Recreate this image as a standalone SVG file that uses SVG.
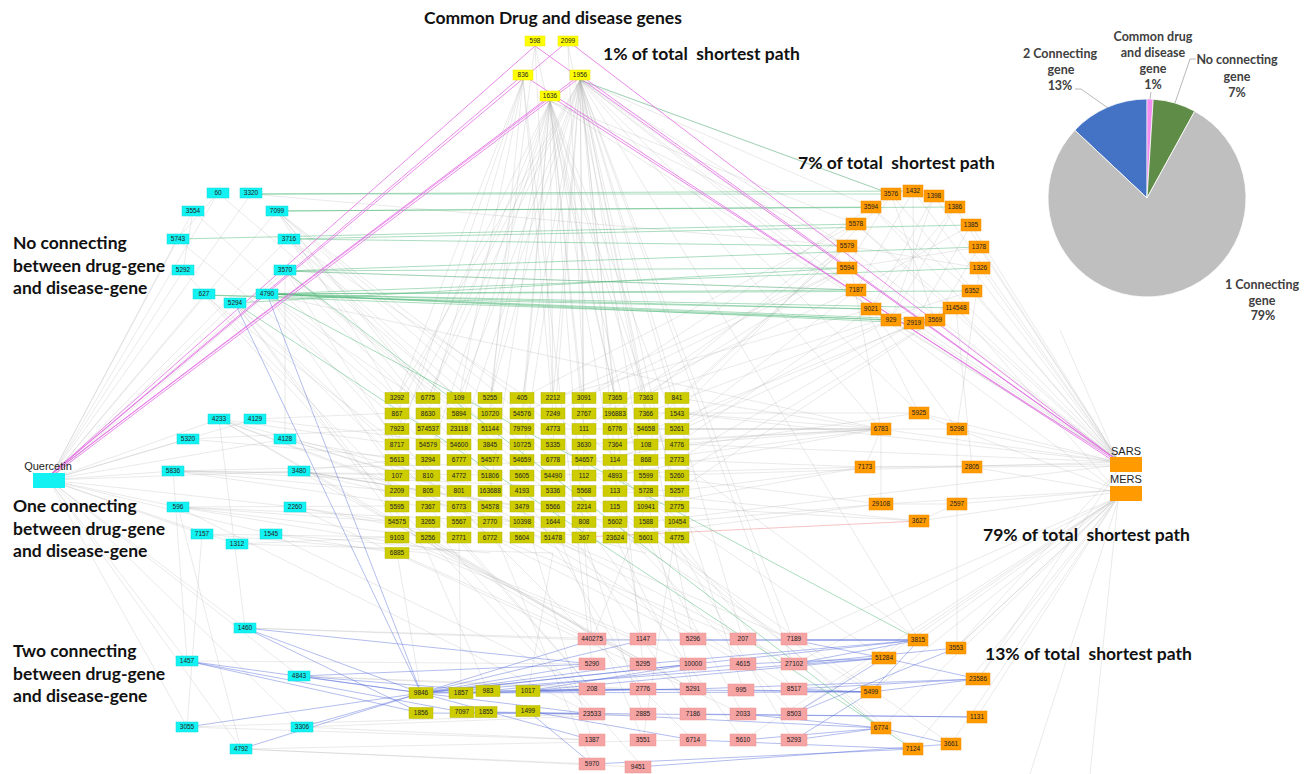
<svg xmlns="http://www.w3.org/2000/svg" width="1309" height="774" viewBox="0 0 1309 774">
<style>
.t{font-family:Lato,"Open Sans","Liberation Sans",sans-serif;font-weight:700;font-size:17.5px;fill:#111;white-space:pre}
.pl{font-family:Lato,"Liberation Sans",sans-serif;font-weight:700;font-size:12.5px;fill:#404040;text-anchor:middle}
.lb{font-family:"Liberation Sans",Arial,sans-serif;font-size:11px;fill:#222;text-anchor:middle}
.n text{font-family:"Liberation Sans",Arial,sans-serif;font-size:6.5px;fill:#222;text-anchor:middle}
.cy rect{fill:#13f2f2;stroke:#0cd8d8;stroke-width:.5}
.cm rect{fill:#ffff00;stroke:#e6e600;stroke-width:.5}
.gy rect{fill:#cccc00;stroke:#b8b800;stroke-width:.5}
.or rect{fill:#ff9a00;stroke:#f08c00;stroke-width:.5}
.pk rect{fill:#f6a3a3;stroke:#ec9595;stroke-width:.5}
.eg{fill:none;stroke:#b0b0b0;stroke-width:.6;opacity:.45}
.egr{fill:none;stroke:#4fb877;stroke-width:.8;opacity:.6}
.ebl{fill:none;stroke:#5068d8;stroke-width:.8;opacity:.55}
.emg{fill:none;stroke:#e46ee4;stroke-width:1;opacity:.8}
.epk{fill:none;stroke:#f0a0a0;stroke-width:.8;opacity:.8}
.ld{fill:none;stroke:#a6a6a6;stroke-width:.8}
</style>
<rect width="1309" height="774" fill="#fff"/>

<g id="connectors">
<path id="e-q" class="eg" d="M49,480L218,193M49,480L251,194M49,480L193,211M49,480L277,211M49,480L177,239M49,480L288,239M49,480L183,271M49,480L285,271M49,480L204,295M49,480L267,294M49,480L235,303M49,480L219,419M49,480L255,419M49,480L188,439M49,480L285,439M49,480L173,471M49,480L299,471M49,480L178,507M49,480L295,507M49,480L202,534M49,480L271,534M49,480L237,544M49,480L245,628M49,480L187,661M49,480L299,676M49,480L187,727M49,480L302,727M49,480L241,749"/>
<path id="e-ctop" class="eg" d="M277,211L397,398M277,211L459,429M277,211L553,460M277,211L615,491M277,211L677,522M288,239L428,413M288,239L522,444M288,239L646,476M285,271L397,444M285,271L490,476M285,271L584,507M285,271L856,290M267,294L397,475M267,294L459,506M267,294L553,537M267,294L881,429M235,303L397,522M235,303L428,553M235,303L490,537M193,211L397,398M218,193L459,398M251,194L847,246M177,239L428,444M183,271L397,491M204,295L459,491M193,211L183,271M218,193L177,239M285,271L285,439M277,211L428,398M288,239L490,429M285,271L553,491M267,294L615,537M235,303L459,522M204,295L397,506"/>
<path id="e-common" class="eg" d="M580,80L397,398M580,80L459,398M580,80L522,398M580,80L584,398M580,80L646,398M580,80L677,398M580,80L847,246M580,80L856,290M580,80L871,309M580,80L553,444M580,80L615,460M580,80L743,640M580,80L793,664M580,80L919,640M550,101L428,398M550,101L490,398M550,101L553,398M550,101L615,398M550,101L522,429M550,101L584,429M550,101L891,320M550,101L643,640M523,80L397,398M523,80L428,413M523,80L490,413M535,46L553,398M550,101L693,689M523,80L592,664"/>
<path id="e-common2" class="eg" d="M580,80L428,398M580,80L490,398M580,80L553,398M580,80L615,398M580,80L397,429M580,80L459,444M580,80L522,460M580,80L584,475M580,80L646,491M580,80L677,506M580,80L793,640M580,80L693,640M580,80L643,664M580,80L881,429M580,80L847,268M580,80L919,413M550,101L397,413M550,101L459,413M550,101L522,413M550,101L584,413M550,101L646,413M550,101L677,429M550,101L428,460M550,101L490,491M550,101L592,640M550,101L743,689M550,101L847,246M550,101L856,224M523,80L459,398M523,80L553,413M523,80L397,444M568,46L584,398M568,46L646,413M535,46L490,398M535,46L615,398M580,80L891,194M580,80L871,207"/>
<path id="e-grid-otop" class="eg" d="M677,398L847,246M646,398L856,224M615,413L847,268M677,429L856,290M584,398L871,207M553,413L847,268M677,444L871,309M646,444L891,320M615,460L914,323M522,398L856,224M677,475L935,320M646,429L847,246M677,413L891,194M615,398L856,290M584,429L847,246M553,398L871,309M646,413L891,320M677,460L914,323M615,444L956,308M584,413L972,291M677,491L935,320M522,413L847,268"/>
<path id="e-otop-in" class="eg" d="M891,194L847,268M913,191L856,290M934,196L871,309M955,207L891,320M971,225L914,323M979,247L935,320M871,207L972,291M856,224L956,308M847,246L980,268M847,268L979,247M856,290L971,225M871,309L955,207M891,320L934,196M914,323L913,191M935,320L891,194M847,246L881,429M856,290L919,413M871,309L957,429M956,308L972,467M980,268L957,429"/>
<path id="e-otop-s" class="eg" d="M891,194L1118,460M913,191L1118,460M934,196L1118,460M871,207L1118,460M955,207L1118,460M856,224L1118,460M971,225L1118,460M847,246L1118,460M979,247L1118,460M847,268L1118,460M980,268L1118,460M856,290L1118,460M972,291L1118,460M871,309L1118,460M956,308L1118,460M891,320L1118,460M914,323L1118,460M935,320L1118,460M871,309L1118,492M956,308L1118,492"/>
<path id="e-grid-omid" class="eg" d="M677,398L881,429M677,413L881,429M677,429L881,429M677,444L881,429M646,429L881,429M615,444L881,429M677,460L865,467M677,491L865,467M646,475L881,504M677,522L881,504M584,460L919,413M646,413L919,413M677,507L919,521M615,537L881,504M553,475L865,467M881,429L957,429M865,467L972,467M881,504L957,504M919,521L957,504M919,413L957,429M957,429L957,648M881,429L865,467M881,429L881,504M646,460L881,429M615,475L881,429M584,444L881,429M646,506L865,467M553,429L881,429M615,491L919,521"/>
<path id="e-omid-sm" class="eg" d="M919,413L1118,462M881,429L1118,462M957,429L1118,462M865,467L1118,464M972,467L1118,466M881,504L1118,490M957,504L1118,490M919,521L1118,492M957,429L1118,490M972,467L1118,492"/>
<path id="e-sm" class="eg" d="M1118,462L677,413M1118,462L677,475M1118,465L646,522M1118,497L794,664M1118,497L794,714M1118,497L743,740M1118,497L794,639M1118,500L1030,774M1118,500L1090,774M1118,462L1060,330M1118,497L956,648M1118,462L677,444"/>
<path id="e-cmid" class="eg" d="M219,419L397,444M219,419L428,475M219,419L490,522M219,419L584,553M219,419L592,640M255,419L397,413M255,419L459,444M188,439L397,429M188,439L428,460M285,439L397,460M285,439L459,491M285,439L553,522M173,471L397,475M173,471L397,491M173,471L428,507M173,471L490,475M173,471L646,460M173,471L677,491M299,471L397,460M299,471L428,491M299,471L522,506M299,471L615,522M299,471L646,553M178,507L397,506M178,507L397,522M178,507L428,537M178,507L459,553M178,507L522,522M295,507L397,522M295,507L459,537M202,534L397,537M202,534L428,553M271,534L397,553M271,534L490,553M237,544L397,537M237,544L553,553M219,419L643,664M299,471L693,689M178,507L592,714M295,507L743,714M271,534L592,689"/>
<path id="e-grid-bottom" class="eg" d="M397,553L592,640M428,537L643,664M459,537L592,689M490,537L693,640M522,537L743,664M553,537L793,640M584,537L643,714M615,537L693,689M646,537L743,714M677,537L793,689M522,506L592,740M553,522L643,740M459,506L693,740M397,506L592,714M646,491L793,740M677,460L919,640M615,475L884,658M553,491L871,692M490,522L592,764M428,522L643,767M397,553L421,693M459,537L461,693M428,553L488,691M553,553L528,691M584,491L951,744M615,506L913,749M646,522L881,728M397,537L643,640M428,553L693,664M459,522L743,640M490,506L794,664M522,491L643,689M553,506L693,714M584,522L743,740M615,522L794,714M646,506L592,640M677,522L643,740M397,522L693,689M428,506L592,689M459,491L794,689"/>
<path id="e-cbot" class="eg" d="M245,628L592,640M245,628L643,640M187,661L592,664M299,676L592,689M299,676L643,689M187,727L592,714M187,727L592,740M302,727L592,740M302,727L643,714M241,749L592,764M241,749L638,767M241,749L693,740M245,628L219,419M241,749L178,507M187,661L173,471M187,727L202,534"/>
<path id="e-obot-sm" class="eg" d="M919,640L1118,497M956,648L1118,497M884,658L1118,497M978,679L1118,497M871,692L1118,497M977,717L1118,497M881,728L1118,497M951,744L1118,497M913,749L1118,497M956,648L1118,470M978,679L1118,470"/>
<path id="e-blue" class="ebl" d="M235,303L421,693M267,294L421,693M245,628L421,693M245,628L421,713M245,628L592,664M187,661L421,693M187,661L421,713M187,661L462,712M299,676L421,693M299,676L488,691M299,676L592,664M187,727L421,693M302,727L421,693M241,749L421,693M421,693L592,640M421,693L592,664M421,693L592,689M421,693L592,714M421,693L643,640M421,693L643,664M421,693L693,664M421,693L919,640M421,693L884,658M421,693L871,692M421,693L592,740M461,693L643,689M461,693L693,689M488,691L693,689M488,691L743,664M528,691L592,689M528,691L693,664M528,691L884,658M462,712L592,714M486,712L643,714M528,711L693,740M528,711L592,764M421,713L592,714M592,640L919,640M793,640L919,640M793,640L884,658M793,664L956,648M793,664L919,640M743,664L884,658M693,640L919,640M793,689L871,692M793,689L978,679M741,690L871,692M794,714L884,658M794,714L956,648M743,714L881,728M794,740L881,728M794,740L871,692M743,740L881,728M693,740L913,749M592,764L913,749M638,767L951,744M693,689L978,679M693,714L977,717M643,714L977,717M643,664L919,640M592,689L871,692M592,714L881,728M884,658L978,679M871,692L978,679M919,640L871,692M881,728L951,744"/>
<path id="e-green" class="egr" d="M251,194L891,194M251,194L913,191M277,211L871,207M277,211L955,207M177,239L856,224M288,239L847,246M288,239L971,225M285,271L847,268M285,271L979,247M285,271L856,290M267,294L856,290M267,294L871,309M267,294L891,320M267,294L972,291M267,294L956,308M267,294L914,323M267,294L935,320M267,294L980,268M204,295L871,309M204,295L891,320M235,303L847,268M580,80L891,194M267,294L919,640M285,271L881,728M235,303L913,749"/>
<path id="e-magenta" class="emg" d="M49,476L535,46M49,476L568,41M49,476L523,75M49,476L580,75M49,476L550,96M52,476L578,79M535,46L1114,458M568,41L1114,458M580,75L1114,458M550,96L1112,458M523,75L1112,460"/>
<path id="e-pink" class="epk" d="M584,537L919,521"/>
</g>

<g id="pie">
<path d="M1147,198L1074.8,130.2A99,99 0 0 1 1147,99Z" fill="#4472c4" stroke="#fff" stroke-width=".8"/>
<path d="M1147,198L1147,99A99,99 0 0 1 1153.2,99.2Z" fill="#f28ef0" stroke="#fff" stroke-width=".5"/>
<path d="M1147,198L1153.2,99.2A99,99 0 0 1 1194.7,111.2Z" fill="#5f8d48" stroke="#fff" stroke-width=".8"/>
<path d="M1147,198L1194.7,111.2A99,99 0 1 1 1074.8,130.2Z" fill="#bfbfbf" stroke="#fff" stroke-width=".8"/>
<polyline class="ld" points="1075,89 1081,89 1108,108"/>
<polyline class="ld" points="1151,92 1150,99"/>
<polyline class="ld" points="1196,59 1190,59 1175,103"/>
<text class="pl" x="1060" y="58">2 Connecting</text>
<text class="pl" x="1061" y="74">gene</text>
<text class="pl" x="1060" y="90">13%</text>
<text class="pl" x="1153" y="41">Common drug</text>
<text class="pl" x="1153" y="57">and disease</text>
<text class="pl" x="1153" y="73">gene</text>
<text class="pl" x="1153" y="89">1%</text>
<text class="pl" x="1237" y="64">No connecting</text>
<text class="pl" x="1237" y="81">gene</text>
<text class="pl" x="1237" y="97">7%</text>
<text class="pl" x="1262" y="289">1 Connecting</text>
<text class="pl" x="1262" y="305">gene</text>
<text class="pl" x="1263" y="320">79%</text>
</g>

<g id="titles">
<text class="t" x="424" y="24">Common Drug and disease genes</text>
<text class="t" x="603" y="60">1% of total  shortest path</text>
<text class="t" x="798" y="169">7% of total  shortest path</text>
<text class="t" x="983" y="541">79% of total  shortest path</text>
<text class="t" x="985" y="660">13% of total  shortest path</text>
<text class="t" x="13" y="249">No connecting</text>
<text class="t" x="13" y="272">between drug-gene</text>
<text class="t" x="13" y="294">and disease-gene</text>
<text class="t" x="13" y="512">One connecting</text>
<text class="t" x="13" y="535">between drug-gene</text>
<text class="t" x="13" y="557">and disease-gene</text>
<text class="t" x="13" y="657">Two connecting</text>
<text class="t" x="13" y="680">between drug-gene</text>
<text class="t" x="13" y="702">and disease-gene</text>
</g>

<g id="quercetin"><rect x="33" y="473" width="32" height="15" fill="#13f2f2"/><text class="lb" x="48" y="470">Quercetin</text></g>
<g id="sars"><rect x="1110" y="457" width="32" height="15" fill="#ff9a00"/><text class="lb" x="1126" y="455">SARS</text></g>
<g id="mers"><rect x="1110" y="486" width="32" height="15" fill="#ff9a00"/><text class="lb" x="1126" y="483">MERS</text></g>

<g id="y598" class="n cm" transform="translate(535,41)"><rect x="-10" y="-5" width="20" height="10"/><text y="2.3">598</text></g>
<g id="y2099" class="n cm" transform="translate(568,41)"><rect x="-10" y="-5" width="20" height="10"/><text y="2.3">2099</text></g>
<g id="y836" class="n cm" transform="translate(523,75)"><rect x="-10" y="-5" width="20" height="10"/><text y="2.3">836</text></g>
<g id="y1956" class="n cm" transform="translate(580,75)"><rect x="-10" y="-5" width="20" height="10"/><text y="2.3">1956</text></g>
<g id="y1636" class="n cm" transform="translate(550,96)"><rect x="-10" y="-5" width="20" height="10"/><text y="2.3">1636</text></g>

<g id="c60" class="n cy" transform="translate(218,193)"><rect x="-11" y="-5" width="22" height="10"/><text y="2.3">60</text></g>
<g id="c3320" class="n cy" transform="translate(251,193)"><rect x="-11" y="-5" width="22" height="10"/><text y="2.3">3320</text></g>
<g id="c3554" class="n cy" transform="translate(193,211)"><rect x="-11" y="-5" width="22" height="10"/><text y="2.3">3554</text></g>
<g id="c7099" class="n cy" transform="translate(277,211)"><rect x="-11" y="-5" width="22" height="10"/><text y="2.3">7099</text></g>
<g id="c5743" class="n cy" transform="translate(178,239)"><rect x="-11" y="-5" width="22" height="10"/><text y="2.3">5743</text></g>
<g id="c3716" class="n cy" transform="translate(289,239)"><rect x="-11" y="-5" width="22" height="10"/><text y="2.3">3716</text></g>
<g id="c5292" class="n cy" transform="translate(183,270)"><rect x="-11" y="-5" width="22" height="10"/><text y="2.3">5292</text></g>
<g id="c3570" class="n cy" transform="translate(285,270)"><rect x="-11" y="-5" width="22" height="10"/><text y="2.3">3570</text></g>
<g id="c627" class="n cy" transform="translate(204,294)"><rect x="-11" y="-5" width="22" height="10"/><text y="2.3">627</text></g>
<g id="c4790" class="n cy" transform="translate(267,294)"><rect x="-11" y="-5" width="22" height="10"/><text y="2.3">4790</text></g>
<g id="c5294" class="n cy" transform="translate(235,303)"><rect x="-11" y="-5" width="22" height="10"/><text y="2.3">5294</text></g>

<g id="c4233" class="n cy" transform="translate(219,419)"><rect x="-11" y="-5" width="22" height="10"/><text y="2.3">4233</text></g>
<g id="c4129" class="n cy" transform="translate(255,419)"><rect x="-11" y="-5" width="22" height="10"/><text y="2.3">4129</text></g>
<g id="c5320" class="n cy" transform="translate(188,439)"><rect x="-11" y="-5" width="22" height="10"/><text y="2.3">5320</text></g>
<g id="c4128" class="n cy" transform="translate(285,439)"><rect x="-11" y="-5" width="22" height="10"/><text y="2.3">4128</text></g>
<g id="c5836" class="n cy" transform="translate(173,471)"><rect x="-11" y="-5" width="22" height="10"/><text y="2.3">5836</text></g>
<g id="c3480" class="n cy" transform="translate(299,471)"><rect x="-11" y="-5" width="22" height="10"/><text y="2.3">3480</text></g>
<g id="c596" class="n cy" transform="translate(178,507)"><rect x="-11" y="-5" width="22" height="10"/><text y="2.3">596</text></g>
<g id="c2260" class="n cy" transform="translate(295,507)"><rect x="-11" y="-5" width="22" height="10"/><text y="2.3">2260</text></g>
<g id="c7157" class="n cy" transform="translate(202,534)"><rect x="-11" y="-5" width="22" height="10"/><text y="2.3">7157</text></g>
<g id="c1545" class="n cy" transform="translate(271,534)"><rect x="-11" y="-5" width="22" height="10"/><text y="2.3">1545</text></g>
<g id="c1312" class="n cy" transform="translate(237,544)"><rect x="-11" y="-5" width="22" height="10"/><text y="2.3">1312</text></g>

<g id="c1460" class="n cy" transform="translate(245,628)"><rect x="-11" y="-5" width="22" height="10"/><text y="2.3">1460</text></g>
<g id="c1457" class="n cy" transform="translate(187,661)"><rect x="-11" y="-5" width="22" height="10"/><text y="2.3">1457</text></g>
<g id="c4843" class="n cy" transform="translate(299,676)"><rect x="-11" y="-5" width="22" height="10"/><text y="2.3">4843</text></g>
<g id="c3055" class="n cy" transform="translate(187,727)"><rect x="-11" y="-5" width="22" height="10"/><text y="2.3">3055</text></g>
<g id="c3306" class="n cy" transform="translate(302,727)"><rect x="-11" y="-5" width="22" height="10"/><text y="2.3">3306</text></g>
<g id="c4792" class="n cy" transform="translate(241,749)"><rect x="-11" y="-5" width="22" height="10"/><text y="2.3">4792</text></g>

<g id="o3576" class="n or" transform="translate(891,194)"><rect x="-10" y="-6" width="20" height="12"/><text y="2.3">3576</text></g>
<g id="o1432" class="n or" transform="translate(913,191)"><rect x="-10" y="-6" width="20" height="12"/><text y="2.3">1432</text></g>
<g id="o1398" class="n or" transform="translate(934,196)"><rect x="-10" y="-6" width="20" height="12"/><text y="2.3">1398</text></g>
<g id="o3594" class="n or" transform="translate(871,207)"><rect x="-10" y="-6" width="20" height="12"/><text y="2.3">3594</text></g>
<g id="o1386" class="n or" transform="translate(955,207)"><rect x="-10" y="-6" width="20" height="12"/><text y="2.3">1386</text></g>
<g id="o5578" class="n or" transform="translate(856,224)"><rect x="-10" y="-6" width="20" height="12"/><text y="2.3">5578</text></g>
<g id="o1385" class="n or" transform="translate(971,225)"><rect x="-10" y="-6" width="20" height="12"/><text y="2.3">1385</text></g>
<g id="o5579" class="n or" transform="translate(847,246)"><rect x="-10" y="-6" width="20" height="12"/><text y="2.3">5579</text></g>
<g id="o1378" class="n or" transform="translate(979,247)"><rect x="-10" y="-6" width="20" height="12"/><text y="2.3">1378</text></g>
<g id="o5594" class="n or" transform="translate(847,268)"><rect x="-10" y="-6" width="20" height="12"/><text y="2.3">5594</text></g>
<g id="o1326" class="n or" transform="translate(980,268)"><rect x="-10" y="-6" width="20" height="12"/><text y="2.3">1326</text></g>
<g id="o7187" class="n or" transform="translate(856,290)"><rect x="-10" y="-6" width="20" height="12"/><text y="2.3">7187</text></g>
<g id="o6352" class="n or" transform="translate(972,291)"><rect x="-10" y="-6" width="20" height="12"/><text y="2.3">6352</text></g>
<g id="o9021" class="n or" transform="translate(871,309)"><rect x="-10" y="-6" width="20" height="12"/><text y="2.3">9021</text></g>
<g id="o114548" class="n or" transform="translate(956,308)"><rect x="-13" y="-6" width="26" height="12"/><text y="2.3">114548</text></g>
<g id="o929" class="n or" transform="translate(891,320)"><rect x="-10" y="-6" width="20" height="12"/><text y="2.3">929</text></g>
<g id="o2919" class="n or" transform="translate(914,323)"><rect x="-10" y="-6" width="20" height="12"/><text y="2.3">2919</text></g>
<g id="o3569" class="n or" transform="translate(935,320)"><rect x="-10" y="-6" width="20" height="12"/><text y="2.3">3569</text></g>

<g id="o5925" class="n or" transform="translate(919,413)"><rect x="-10" y="-6" width="20" height="12"/><text y="2.3">5925</text></g>
<g id="o6783" class="n or" transform="translate(881,429)"><rect x="-10" y="-6" width="20" height="12"/><text y="2.3">6783</text></g>
<g id="o5298" class="n or" transform="translate(957,429)"><rect x="-10" y="-6" width="20" height="12"/><text y="2.3">5298</text></g>
<g id="o7173" class="n or" transform="translate(865,467)"><rect x="-10" y="-6" width="20" height="12"/><text y="2.3">7173</text></g>
<g id="o2805" class="n or" transform="translate(972,467)"><rect x="-10" y="-6" width="20" height="12"/><text y="2.3">2805</text></g>
<g id="o29108" class="n or" transform="translate(881,504)"><rect x="-12" y="-6" width="24" height="12"/><text y="2.3">29108</text></g>
<g id="o2597" class="n or" transform="translate(957,504)"><rect x="-10" y="-6" width="20" height="12"/><text y="2.3">2597</text></g>
<g id="o3627" class="n or" transform="translate(919,521)"><rect x="-10" y="-6" width="20" height="12"/><text y="2.3">3627</text></g>

<g id="o3815" class="n or" transform="translate(918,640)"><rect x="-10" y="-6" width="20" height="12"/><text y="2.3">3815</text></g>
<g id="o3553" class="n or" transform="translate(956,648)"><rect x="-10" y="-6" width="20" height="12"/><text y="2.3">3553</text></g>
<g id="o51284" class="n or" transform="translate(884,658)"><rect x="-12" y="-6" width="24" height="12"/><text y="2.3">51284</text></g>
<g id="o23586" class="n or" transform="translate(978,679)"><rect x="-12" y="-6" width="24" height="12"/><text y="2.3">23586</text></g>
<g id="o5499" class="n or" transform="translate(871,692)"><rect x="-10" y="-6" width="20" height="12"/><text y="2.3">5499</text></g>
<g id="o1131" class="n or" transform="translate(977,717)"><rect x="-10" y="-6" width="20" height="12"/><text y="2.3">1131</text></g>
<g id="o6774" class="n or" transform="translate(881,728)"><rect x="-10" y="-6" width="20" height="12"/><text y="2.3">6774</text></g>
<g id="o3661" class="n or" transform="translate(951,744)"><rect x="-10" y="-6" width="20" height="12"/><text y="2.3">3661</text></g>
<g id="o7124" class="n or" transform="translate(913,749)"><rect x="-10" y="-6" width="20" height="12"/><text y="2.3">7124</text></g>

<g id="grid">
<g id="g3292" class="n gy" transform="translate(397,398)"><rect x="-12" y="-5.5" width="24" height="11"/><text y="2.3">3292</text></g>
<g id="g6775" class="n gy" transform="translate(428,398)"><rect x="-12" y="-5.5" width="24" height="11"/><text y="2.3">6775</text></g>
<g id="g109" class="n gy" transform="translate(459,398)"><rect x="-12" y="-5.5" width="24" height="11"/><text y="2.3">109</text></g>
<g id="g5255" class="n gy" transform="translate(490,398)"><rect x="-12" y="-5.5" width="24" height="11"/><text y="2.3">5255</text></g>
<g id="g405" class="n gy" transform="translate(522,398)"><rect x="-12" y="-5.5" width="24" height="11"/><text y="2.3">405</text></g>
<g id="g2212" class="n gy" transform="translate(553,398)"><rect x="-12" y="-5.5" width="24" height="11"/><text y="2.3">2212</text></g>
<g id="g3091" class="n gy" transform="translate(584,398)"><rect x="-12" y="-5.5" width="24" height="11"/><text y="2.3">3091</text></g>
<g id="g7365" class="n gy" transform="translate(615,398)"><rect x="-12" y="-5.5" width="24" height="11"/><text y="2.3">7365</text></g>
<g id="g7363" class="n gy" transform="translate(646,398)"><rect x="-12" y="-5.5" width="24" height="11"/><text y="2.3">7363</text></g>
<g id="g841" class="n gy" transform="translate(677,398)"><rect x="-12" y="-5.5" width="24" height="11"/><text y="2.3">841</text></g>

<g id="g867" class="n gy" transform="translate(397,413.5)"><rect x="-12" y="-5.5" width="24" height="11"/><text y="2.3">867</text></g>
<g id="g8630" class="n gy" transform="translate(428,413.5)"><rect x="-12" y="-5.5" width="24" height="11"/><text y="2.3">8630</text></g>
<g id="g5894" class="n gy" transform="translate(459,413.5)"><rect x="-12" y="-5.5" width="24" height="11"/><text y="2.3">5894</text></g>
<g id="g10720" class="n gy" transform="translate(490,413.5)"><rect x="-12" y="-5.5" width="24" height="11"/><text y="2.3">10720</text></g>
<g id="g54576" class="n gy" transform="translate(522,413.5)"><rect x="-12" y="-5.5" width="24" height="11"/><text y="2.3">54576</text></g>
<g id="g7249" class="n gy" transform="translate(553,413.5)"><rect x="-12" y="-5.5" width="24" height="11"/><text y="2.3">7249</text></g>
<g id="g2767" class="n gy" transform="translate(584,413.5)"><rect x="-12" y="-5.5" width="24" height="11"/><text y="2.3">2767</text></g>
<g id="g196883" class="n gy" transform="translate(615,413.5)"><rect x="-12" y="-5.5" width="24" height="11"/><text y="2.3">196883</text></g>
<g id="g7366" class="n gy" transform="translate(646,413.5)"><rect x="-12" y="-5.5" width="24" height="11"/><text y="2.3">7366</text></g>
<g id="g1543" class="n gy" transform="translate(677,413.5)"><rect x="-12" y="-5.5" width="24" height="11"/><text y="2.3">1543</text></g>

<g id="g7923" class="n gy" transform="translate(397,429)"><rect x="-12" y="-5.5" width="24" height="11"/><text y="2.3">7923</text></g>
<g id="g574537" class="n gy" transform="translate(428,429)"><rect x="-12" y="-5.5" width="24" height="11"/><text y="2.3">574537</text></g>
<g id="g23118" class="n gy" transform="translate(459,429)"><rect x="-12" y="-5.5" width="24" height="11"/><text y="2.3">23118</text></g>
<g id="g51144" class="n gy" transform="translate(490,429)"><rect x="-12" y="-5.5" width="24" height="11"/><text y="2.3">51144</text></g>
<g id="g79799" class="n gy" transform="translate(522,429)"><rect x="-12" y="-5.5" width="24" height="11"/><text y="2.3">79799</text></g>
<g id="g4773" class="n gy" transform="translate(553,429)"><rect x="-12" y="-5.5" width="24" height="11"/><text y="2.3">4773</text></g>
<g id="g111" class="n gy" transform="translate(584,429)"><rect x="-12" y="-5.5" width="24" height="11"/><text y="2.3">111</text></g>
<g id="g6776" class="n gy" transform="translate(615,429)"><rect x="-12" y="-5.5" width="24" height="11"/><text y="2.3">6776</text></g>
<g id="g54658" class="n gy" transform="translate(646,429)"><rect x="-12" y="-5.5" width="24" height="11"/><text y="2.3">54658</text></g>
<g id="g5261" class="n gy" transform="translate(677,429)"><rect x="-12" y="-5.5" width="24" height="11"/><text y="2.3">5261</text></g>

<g id="g8717" class="n gy" transform="translate(397,444.5)"><rect x="-12" y="-5.5" width="24" height="11"/><text y="2.3">8717</text></g>
<g id="g54579" class="n gy" transform="translate(428,444.5)"><rect x="-12" y="-5.5" width="24" height="11"/><text y="2.3">54579</text></g>
<g id="g54600" class="n gy" transform="translate(459,444.5)"><rect x="-12" y="-5.5" width="24" height="11"/><text y="2.3">54600</text></g>
<g id="g3845" class="n gy" transform="translate(490,444.5)"><rect x="-12" y="-5.5" width="24" height="11"/><text y="2.3">3845</text></g>
<g id="g10725" class="n gy" transform="translate(522,444.5)"><rect x="-12" y="-5.5" width="24" height="11"/><text y="2.3">10725</text></g>
<g id="g5335" class="n gy" transform="translate(553,444.5)"><rect x="-12" y="-5.5" width="24" height="11"/><text y="2.3">5335</text></g>
<g id="g3630" class="n gy" transform="translate(584,444.5)"><rect x="-12" y="-5.5" width="24" height="11"/><text y="2.3">3630</text></g>
<g id="g7364" class="n gy" transform="translate(615,444.5)"><rect x="-12" y="-5.5" width="24" height="11"/><text y="2.3">7364</text></g>
<g id="g108" class="n gy" transform="translate(646,444.5)"><rect x="-12" y="-5.5" width="24" height="11"/><text y="2.3">108</text></g>
<g id="g4776" class="n gy" transform="translate(677,444.5)"><rect x="-12" y="-5.5" width="24" height="11"/><text y="2.3">4776</text></g>

<g id="g5613" class="n gy" transform="translate(397,460)"><rect x="-12" y="-5.5" width="24" height="11"/><text y="2.3">5613</text></g>
<g id="g3294" class="n gy" transform="translate(428,460)"><rect x="-12" y="-5.5" width="24" height="11"/><text y="2.3">3294</text></g>
<g id="g6777" class="n gy" transform="translate(459,460)"><rect x="-12" y="-5.5" width="24" height="11"/><text y="2.3">6777</text></g>
<g id="g54577" class="n gy" transform="translate(490,460)"><rect x="-12" y="-5.5" width="24" height="11"/><text y="2.3">54577</text></g>
<g id="g54659" class="n gy" transform="translate(522,460)"><rect x="-12" y="-5.5" width="24" height="11"/><text y="2.3">54659</text></g>
<g id="g6778" class="n gy" transform="translate(553,460)"><rect x="-12" y="-5.5" width="24" height="11"/><text y="2.3">6778</text></g>
<g id="g54657" class="n gy" transform="translate(584,460)"><rect x="-12" y="-5.5" width="24" height="11"/><text y="2.3">54657</text></g>
<g id="g114" class="n gy" transform="translate(615,460)"><rect x="-12" y="-5.5" width="24" height="11"/><text y="2.3">114</text></g>
<g id="g868" class="n gy" transform="translate(646,460)"><rect x="-12" y="-5.5" width="24" height="11"/><text y="2.3">868</text></g>
<g id="g2773" class="n gy" transform="translate(677,460)"><rect x="-12" y="-5.5" width="24" height="11"/><text y="2.3">2773</text></g>

<g id="g107" class="n gy" transform="translate(397,475.5)"><rect x="-12" y="-5.5" width="24" height="11"/><text y="2.3">107</text></g>
<g id="g810" class="n gy" transform="translate(428,475.5)"><rect x="-12" y="-5.5" width="24" height="11"/><text y="2.3">810</text></g>
<g id="g4772" class="n gy" transform="translate(459,475.5)"><rect x="-12" y="-5.5" width="24" height="11"/><text y="2.3">4772</text></g>
<g id="g51806" class="n gy" transform="translate(490,475.5)"><rect x="-12" y="-5.5" width="24" height="11"/><text y="2.3">51806</text></g>
<g id="g5605" class="n gy" transform="translate(522,475.5)"><rect x="-12" y="-5.5" width="24" height="11"/><text y="2.3">5605</text></g>
<g id="g54490" class="n gy" transform="translate(553,475.5)"><rect x="-12" y="-5.5" width="24" height="11"/><text y="2.3">54490</text></g>
<g id="g112" class="n gy" transform="translate(584,475.5)"><rect x="-12" y="-5.5" width="24" height="11"/><text y="2.3">112</text></g>
<g id="g4893" class="n gy" transform="translate(615,475.5)"><rect x="-12" y="-5.5" width="24" height="11"/><text y="2.3">4893</text></g>
<g id="g5599" class="n gy" transform="translate(646,475.5)"><rect x="-12" y="-5.5" width="24" height="11"/><text y="2.3">5599</text></g>
<g id="g5260" class="n gy" transform="translate(677,475.5)"><rect x="-12" y="-5.5" width="24" height="11"/><text y="2.3">5260</text></g>

<g id="g2209" class="n gy" transform="translate(397,491)"><rect x="-12" y="-5.5" width="24" height="11"/><text y="2.3">2209</text></g>
<g id="g805" class="n gy" transform="translate(428,491)"><rect x="-12" y="-5.5" width="24" height="11"/><text y="2.3">805</text></g>
<g id="g801" class="n gy" transform="translate(459,491)"><rect x="-12" y="-5.5" width="24" height="11"/><text y="2.3">801</text></g>
<g id="g163688" class="n gy" transform="translate(490,491)"><rect x="-12" y="-5.5" width="24" height="11"/><text y="2.3">163688</text></g>
<g id="g4193" class="n gy" transform="translate(522,491)"><rect x="-12" y="-5.5" width="24" height="11"/><text y="2.3">4193</text></g>
<g id="g5336" class="n gy" transform="translate(553,491)"><rect x="-12" y="-5.5" width="24" height="11"/><text y="2.3">5336</text></g>
<g id="g5568" class="n gy" transform="translate(584,491)"><rect x="-12" y="-5.5" width="24" height="11"/><text y="2.3">5568</text></g>
<g id="g113" class="n gy" transform="translate(615,491)"><rect x="-12" y="-5.5" width="24" height="11"/><text y="2.3">113</text></g>
<g id="g5728" class="n gy" transform="translate(646,491)"><rect x="-12" y="-5.5" width="24" height="11"/><text y="2.3">5728</text></g>
<g id="g5257" class="n gy" transform="translate(677,491)"><rect x="-12" y="-5.5" width="24" height="11"/><text y="2.3">5257</text></g>

<g id="g5595" class="n gy" transform="translate(397,506.5)"><rect x="-12" y="-5.5" width="24" height="11"/><text y="2.3">5595</text></g>
<g id="g7367" class="n gy" transform="translate(428,506.5)"><rect x="-12" y="-5.5" width="24" height="11"/><text y="2.3">7367</text></g>
<g id="g6773" class="n gy" transform="translate(459,506.5)"><rect x="-12" y="-5.5" width="24" height="11"/><text y="2.3">6773</text></g>
<g id="g54578" class="n gy" transform="translate(490,506.5)"><rect x="-12" y="-5.5" width="24" height="11"/><text y="2.3">54578</text></g>
<g id="g3479" class="n gy" transform="translate(522,506.5)"><rect x="-12" y="-5.5" width="24" height="11"/><text y="2.3">3479</text></g>
<g id="g5566" class="n gy" transform="translate(553,506.5)"><rect x="-12" y="-5.5" width="24" height="11"/><text y="2.3">5566</text></g>
<g id="g2214" class="n gy" transform="translate(584,506.5)"><rect x="-12" y="-5.5" width="24" height="11"/><text y="2.3">2214</text></g>
<g id="g115" class="n gy" transform="translate(615,506.5)"><rect x="-12" y="-5.5" width="24" height="11"/><text y="2.3">115</text></g>
<g id="g10941" class="n gy" transform="translate(646,506.5)"><rect x="-12" y="-5.5" width="24" height="11"/><text y="2.3">10941</text></g>
<g id="g2775" class="n gy" transform="translate(677,506.5)"><rect x="-12" y="-5.5" width="24" height="11"/><text y="2.3">2775</text></g>

<g id="g54575" class="n gy" transform="translate(397,522)"><rect x="-12" y="-5.5" width="24" height="11"/><text y="2.3">54575</text></g>
<g id="g3265" class="n gy" transform="translate(428,522)"><rect x="-12" y="-5.5" width="24" height="11"/><text y="2.3">3265</text></g>
<g id="g5567" class="n gy" transform="translate(459,522)"><rect x="-12" y="-5.5" width="24" height="11"/><text y="2.3">5567</text></g>
<g id="g2770" class="n gy" transform="translate(490,522)"><rect x="-12" y="-5.5" width="24" height="11"/><text y="2.3">2770</text></g>
<g id="g10398" class="n gy" transform="translate(522,522)"><rect x="-12" y="-5.5" width="24" height="11"/><text y="2.3">10398</text></g>
<g id="g1644" class="n gy" transform="translate(553,522)"><rect x="-12" y="-5.5" width="24" height="11"/><text y="2.3">1644</text></g>
<g id="g808" class="n gy" transform="translate(584,522)"><rect x="-12" y="-5.5" width="24" height="11"/><text y="2.3">808</text></g>
<g id="g5602" class="n gy" transform="translate(615,522)"><rect x="-12" y="-5.5" width="24" height="11"/><text y="2.3">5602</text></g>
<g id="g1588" class="n gy" transform="translate(646,522)"><rect x="-12" y="-5.5" width="24" height="11"/><text y="2.3">1588</text></g>
<g id="g10454" class="n gy" transform="translate(677,522)"><rect x="-12" y="-5.5" width="24" height="11"/><text y="2.3">10454</text></g>

<g id="g9103" class="n gy" transform="translate(397,537.5)"><rect x="-12" y="-5.5" width="24" height="11"/><text y="2.3">9103</text></g>
<g id="g5256" class="n gy" transform="translate(428,537.5)"><rect x="-12" y="-5.5" width="24" height="11"/><text y="2.3">5256</text></g>
<g id="g2771" class="n gy" transform="translate(459,537.5)"><rect x="-12" y="-5.5" width="24" height="11"/><text y="2.3">2771</text></g>
<g id="g6772" class="n gy" transform="translate(490,537.5)"><rect x="-12" y="-5.5" width="24" height="11"/><text y="2.3">6772</text></g>
<g id="g5604" class="n gy" transform="translate(522,537.5)"><rect x="-12" y="-5.5" width="24" height="11"/><text y="2.3">5604</text></g>
<g id="g51478" class="n gy" transform="translate(553,537.5)"><rect x="-12" y="-5.5" width="24" height="11"/><text y="2.3">51478</text></g>
<g id="g367" class="n gy" transform="translate(584,537.5)"><rect x="-12" y="-5.5" width="24" height="11"/><text y="2.3">367</text></g>
<g id="g23624" class="n gy" transform="translate(615,537.5)"><rect x="-12" y="-5.5" width="24" height="11"/><text y="2.3">23624</text></g>
<g id="g5601" class="n gy" transform="translate(646,537.5)"><rect x="-12" y="-5.5" width="24" height="11"/><text y="2.3">5601</text></g>
<g id="g4775" class="n gy" transform="translate(677,537.5)"><rect x="-12" y="-5.5" width="24" height="11"/><text y="2.3">4775</text></g>

<g id="g6885" class="n gy" transform="translate(397,553)"><rect x="-12" y="-5.5" width="24" height="11"/><text y="2.3">6885</text></g>
</g>

<g id="g9846" class="n gy" transform="translate(421,693)"><rect x="-12" y="-5.5" width="24" height="11"/><text y="2.3">9846</text></g>
<g id="g1857" class="n gy" transform="translate(461,693)"><rect x="-12" y="-5.5" width="24" height="11"/><text y="2.3">1857</text></g>
<g id="g983" class="n gy" transform="translate(488,691)"><rect x="-12" y="-5.5" width="24" height="11"/><text y="2.3">983</text></g>
<g id="g1017" class="n gy" transform="translate(528,691)"><rect x="-12" y="-5.5" width="24" height="11"/><text y="2.3">1017</text></g>
<g id="g1856" class="n gy" transform="translate(421,713)"><rect x="-12" y="-5.5" width="24" height="11"/><text y="2.3">1856</text></g>
<g id="g7097" class="n gy" transform="translate(462,712)"><rect x="-12" y="-5.5" width="24" height="11"/><text y="2.3">7097</text></g>
<g id="g1855" class="n gy" transform="translate(486,712)"><rect x="-11" y="-5.5" width="22" height="11"/><text y="2.3">1855</text></g>
<g id="g1499" class="n gy" transform="translate(528,711)"><rect x="-12" y="-5.5" width="24" height="11"/><text y="2.3">1499</text></g>

<g id="p440275" class="n pk" transform="translate(592,639)"><rect x="-14" y="-6" width="28" height="12"/><text y="2.3">440275</text></g>
<g id="p1147" class="n pk" transform="translate(643,639)"><rect x="-13" y="-6" width="26" height="12"/><text y="2.3">1147</text></g>
<g id="p5296" class="n pk" transform="translate(693,639)"><rect x="-13" y="-6" width="26" height="12"/><text y="2.3">5296</text></g>
<g id="p207" class="n pk" transform="translate(743,639)"><rect x="-13" y="-6" width="26" height="12"/><text y="2.3">207</text></g>
<g id="p7189" class="n pk" transform="translate(794,639)"><rect x="-13" y="-6" width="26" height="12"/><text y="2.3">7189</text></g>
<g id="p5290" class="n pk" transform="translate(592,664)"><rect x="-13" y="-6" width="26" height="12"/><text y="2.3">5290</text></g>
<g id="p5295" class="n pk" transform="translate(643,664)"><rect x="-13" y="-6" width="26" height="12"/><text y="2.3">5295</text></g>
<g id="p10000" class="n pk" transform="translate(693,664)"><rect x="-13" y="-6" width="26" height="12"/><text y="2.3">10000</text></g>
<g id="p4615" class="n pk" transform="translate(743,664)"><rect x="-13" y="-6" width="26" height="12"/><text y="2.3">4615</text></g>
<g id="p27102" class="n pk" transform="translate(794,664)"><rect x="-13" y="-6" width="26" height="12"/><text y="2.3">27102</text></g>
<g id="p208" class="n pk" transform="translate(592,689)"><rect x="-13" y="-6" width="26" height="12"/><text y="2.3">208</text></g>
<g id="p2776" class="n pk" transform="translate(643,689)"><rect x="-13" y="-6" width="26" height="12"/><text y="2.3">2776</text></g>
<g id="p5291" class="n pk" transform="translate(693,689)"><rect x="-13" y="-6" width="26" height="12"/><text y="2.3">5291</text></g>
<g id="p995" class="n pk" transform="translate(741,690)"><rect x="-13" y="-6" width="26" height="12"/><text y="2.3">995</text></g>
<g id="p8517" class="n pk" transform="translate(794,689)"><rect x="-13" y="-6" width="26" height="12"/><text y="2.3">8517</text></g>
<g id="p23533" class="n pk" transform="translate(592,714)"><rect x="-13" y="-6" width="26" height="12"/><text y="2.3">23533</text></g>
<g id="p2885" class="n pk" transform="translate(643,714)"><rect x="-13" y="-6" width="26" height="12"/><text y="2.3">2885</text></g>
<g id="p7186" class="n pk" transform="translate(693,714)"><rect x="-13" y="-6" width="26" height="12"/><text y="2.3">7186</text></g>
<g id="p2033" class="n pk" transform="translate(743,714)"><rect x="-13" y="-6" width="26" height="12"/><text y="2.3">2033</text></g>
<g id="p8503" class="n pk" transform="translate(794,714)"><rect x="-13" y="-6" width="26" height="12"/><text y="2.3">8503</text></g>
<g id="p1387" class="n pk" transform="translate(592,740)"><rect x="-13" y="-6" width="26" height="12"/><text y="2.3">1387</text></g>
<g id="p3551" class="n pk" transform="translate(643,740)"><rect x="-13" y="-6" width="26" height="12"/><text y="2.3">3551</text></g>
<g id="p6714" class="n pk" transform="translate(693,740)"><rect x="-13" y="-6" width="26" height="12"/><text y="2.3">6714</text></g>
<g id="p5610" class="n pk" transform="translate(743,740)"><rect x="-13" y="-6" width="26" height="12"/><text y="2.3">5610</text></g>
<g id="p5293" class="n pk" transform="translate(794,740)"><rect x="-13" y="-6" width="26" height="12"/><text y="2.3">5293</text></g>
<g id="p5970" class="n pk" transform="translate(592,764)"><rect x="-13" y="-6" width="26" height="12"/><text y="2.3">5970</text></g>
<g id="p9451" class="n pk" transform="translate(638,767)"><rect x="-13" y="-6" width="26" height="12"/><text y="2.3">9451</text></g>
</svg>
